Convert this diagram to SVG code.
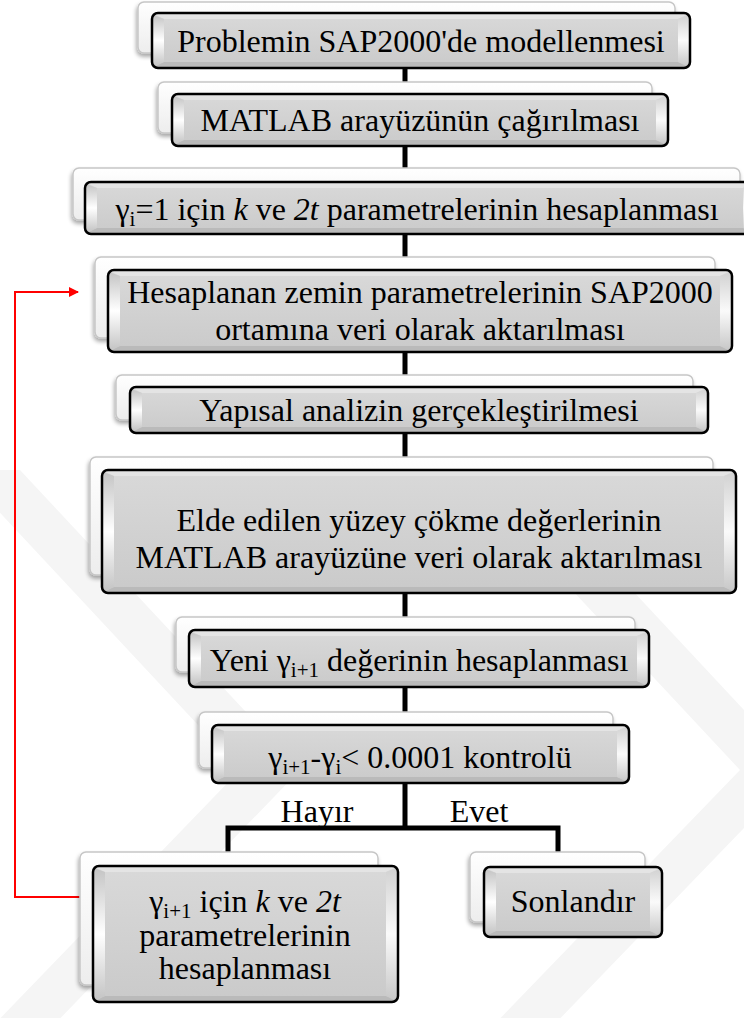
<svg xmlns="http://www.w3.org/2000/svg" width="744" height="1018" viewBox="0 0 744 1018" font-family="'Liberation Serif', 'Times New Roman', serif">
<defs>
<linearGradient id="face" x1="0" y1="0" x2="0" y2="1"><stop offset="0" stop-color="#d9d9d9"/><stop offset="1" stop-color="#cacaca"/></linearGradient>
<linearGradient id="lbev" x1="0" y1="0" x2="0" y2="1"><stop offset="0" stop-color="#c4c4c4"/><stop offset="0.5" stop-color="#ffffff"/><stop offset="1" stop-color="#c4c4c4"/></linearGradient>
<linearGradient id="rbev" x1="0" y1="0" x2="0" y2="1"><stop offset="0" stop-color="#d2d2d2"/><stop offset="0.5" stop-color="#fafafa"/><stop offset="1" stop-color="#c8c8c8"/></linearGradient>
<linearGradient id="back" x1="0" y1="0" x2="0" y2="1"><stop offset="0" stop-color="#ffffff"/><stop offset="1" stop-color="#ededed"/></linearGradient>
<filter id="sh" x="-10%" y="-20%" width="120%" height="150%"><feGaussianBlur in="SourceAlpha" stdDeviation="2"/><feOffset dx="-1" dy="3"/><feComponentTransfer><feFuncA type="linear" slope="0.35"/></feComponentTransfer><feMerge><feMergeNode/><feMergeNode in="SourceGraphic"/></feMerge></filter>
<marker id="ah" viewBox="0 0 10 10" refX="9" refY="5" markerWidth="5" markerHeight="5" orient="auto" markerUnits="strokeWidth"><path d="M0,0 L10,5 L0,10 z" fill="#ff0000"/></marker>
<style>
.bk{fill:url(#back);stroke:#c6c6c6;stroke-width:1.5;filter:url(#sh)}
.fr{fill:url(#face);stroke:none}
.ol{fill:none;stroke:#000;stroke-width:2.5}
.lb{fill:url(#lbev)}
.rb{fill:url(#rbev)}
.tb{fill:#e4e4e4}
.bb{fill:#bababa}
text{font-family:"Liberation Serif","Times New Roman",serif}
.t{font-size:32px;fill:#000;text-anchor:middle}
.s{font-size:21px}
.wm{fill:#f5f5f5}
</style>
</defs>
<g id="watermark">
<polygon class="wm" points="-40,470 20,470 300,770 20,1060 -40,1060 240,770"/>
<polygon class="wm" points="460,470 520,470 800,770 520,1060 460,1060 740,770"/>
</g>
<g id="connectors">
<line x1="405" y1="60" x2="405" y2="830" stroke="#000" stroke-width="5"/>
<polyline points="228,852 228,828 558,828 558,852" fill="none" stroke="#000" stroke-width="5"/>
<polyline points="80,897 15,897 15,292 78,292" fill="none" stroke="#ff0000" stroke-width="2" marker-end="url(#ah)"/>
</g>
<g id="n1">
<rect class="bk" x="138" y="2" width="537" height="51" rx="6"/>
<rect class="fr" x="152" y="13" width="538" height="55" rx="6"/>
<polygon class="tb" points="154,14 688,14 678,19 164,19"/>
<polygon class="bb" points="154,67 688,67 678,62 164,62"/>
<polygon class="lb" points="153,15 164,19 164,62 153,66"/>
<polygon class="rb" points="689,15 678,19 678,62 689,66"/>
<rect class="ol" x="152" y="13" width="538" height="55" rx="6"/>
<text class="t" x="421" y="52">Problemin SAP2000'de modellenmesi</text>
</g>
<g id="n2">
<rect class="bk" x="158" y="82" width="494" height="51" rx="6"/>
<rect class="fr" x="172" y="94" width="496" height="52" rx="6"/>
<polygon class="tb" points="174,95 666,95 656,100 184,100"/>
<polygon class="bb" points="174,145 666,145 656,140 184,140"/>
<polygon class="lb" points="173,96 184,100 184,140 173,144"/>
<polygon class="rb" points="667,96 656,100 656,140 667,144"/>
<rect class="ol" x="172" y="94" width="496" height="52" rx="6"/>
<text class="t" x="420" y="131">MATLAB arayüzünün çağırılması</text>
</g>
<g id="n3">
<rect class="bk" x="73" y="168" width="667" height="52" rx="6"/>
<rect class="fr" x="85" y="182" width="670" height="52" rx="6"/>
<polygon class="tb" points="87,183 753,183 743,188 97,188"/>
<polygon class="bb" points="87,233 753,233 743,228 97,228"/>
<polygon class="lb" points="86,184 97,188 97,228 86,232"/>
<polygon class="rb" points="754,184 743,188 743,228 754,232"/>
<rect class="ol" x="85" y="182" width="670" height="52" rx="6"/>
<text class="t" x="417" y="220">γ<tspan class="s" dy="6">i</tspan><tspan dy="-6">=1 için </tspan><tspan font-style="italic">k</tspan> ve <tspan font-style="italic">2t</tspan> parametrelerinin hesaplanması</text>
</g>
<g id="n4">
<rect class="bk" x="95" y="257" width="620" height="81" rx="6"/>
<rect class="fr" x="108" y="270" width="624" height="82" rx="6"/>
<polygon class="tb" points="110,271 730,271 720,276 120,276"/>
<polygon class="bb" points="110,351 730,351 720,346 120,346"/>
<polygon class="lb" points="109,272 120,276 120,346 109,350"/>
<polygon class="rb" points="731,272 720,276 720,346 731,350"/>
<rect class="ol" x="108" y="270" width="624" height="82" rx="6"/>
<text class="t" x="420" y="303">Hesaplanan zemin parametrelerinin SAP2000</text>
<text class="t" x="420" y="340">ortamına veri olarak aktarılması</text>
</g>
<g id="n5">
<rect class="bk" x="116" y="375" width="577" height="45" rx="6"/>
<rect class="fr" x="130" y="387" width="578" height="46" rx="6"/>
<polygon class="tb" points="132,388 706,388 696,393 142,393"/>
<polygon class="bb" points="132,432 706,432 696,427 142,427"/>
<polygon class="lb" points="131,389 142,393 142,427 131,431"/>
<polygon class="rb" points="707,389 696,393 696,427 707,431"/>
<rect class="ol" x="130" y="387" width="578" height="46" rx="6"/>
<text class="t" x="419" y="421">Yapısal analizin gerçekleştirilmesi</text>
</g>
<g id="n6">
<rect class="bk" x="90" y="457" width="623" height="118" rx="6"/>
<rect class="fr" x="102" y="470" width="634" height="123" rx="6"/>
<polygon class="tb" points="104,471 734,471 724,476 114,476"/>
<polygon class="bb" points="104,592 734,592 724,587 114,587"/>
<polygon class="lb" points="103,472 114,476 114,587 103,591"/>
<polygon class="rb" points="735,472 724,476 724,587 735,591"/>
<rect class="ol" x="102" y="470" width="634" height="123" rx="6"/>
<text class="t" x="419" y="531">Elde edilen yüzey çökme değerlerinin</text>
<text class="t" x="419" y="568">MATLAB arayüzüne veri olarak aktarılması</text>
</g>
<g id="n7">
<rect class="bk" x="176" y="617" width="459" height="55" rx="6"/>
<rect class="fr" x="189" y="630" width="460" height="57" rx="6"/>
<polygon class="tb" points="191,631 647,631 637,636 201,636"/>
<polygon class="bb" points="191,686 647,686 637,681 201,681"/>
<polygon class="lb" points="190,632 201,636 201,681 190,685"/>
<polygon class="rb" points="648,632 637,636 637,681 648,685"/>
<rect class="ol" x="189" y="630" width="460" height="57" rx="6"/>
<text class="t" x="419" y="671">Yeni γ<tspan class="s" dy="6">i+1</tspan><tspan dy="-6"> değerinin hesaplanması</tspan></text>
</g>
<g id="n8">
<rect class="bk" x="199" y="712" width="414" height="56" rx="6"/>
<rect class="fr" x="212" y="725" width="417" height="58" rx="6"/>
<polygon class="tb" points="214,726 627,726 617,731 224,731"/>
<polygon class="bb" points="214,782 627,782 617,777 224,777"/>
<polygon class="lb" points="213,727 224,731 224,777 213,781"/>
<polygon class="rb" points="628,727 617,731 617,777 628,781"/>
<rect class="ol" x="212" y="725" width="417" height="58" rx="6"/>
<text class="t" x="420" y="768">γ<tspan class="s" dy="6">i+1</tspan><tspan dy="-6">-γ</tspan><tspan class="s" dy="6">i</tspan><tspan dy="-6">&lt; 0.0001 kontrolü</tspan></text>
</g>
<g id="labels">
<text class="t" x="317" y="822">Hayır</text>
<text class="t" x="479" y="822">Evet</text>
</g>
<g id="n9">
<rect class="bk" x="80" y="852" width="298" height="133" rx="6"/>
<rect class="fr" x="93" y="866" width="305" height="136" rx="6"/>
<polygon class="tb" points="95,867 396,867 386,872 105,872"/>
<polygon class="bb" points="95,1001 396,1001 386,996 105,996"/>
<polygon class="lb" points="94,868 105,872 105,996 94,1000"/>
<polygon class="rb" points="397,868 386,872 386,996 397,1000"/>
<rect class="ol" x="93" y="866" width="305" height="136" rx="6"/>
<text class="t" x="245" y="912">γ<tspan class="s" dy="6">i+1</tspan><tspan dy="-6"> için </tspan><tspan font-style="italic">k</tspan> ve <tspan font-style="italic">2t</tspan></text>
<text class="t" x="245" y="946">parametrelerinin</text>
<text class="t" x="245" y="979">hesaplanması</text>
</g>
<g id="n10">
<rect class="bk" x="470" y="852" width="175" height="70" rx="6"/>
<rect class="fr" x="484" y="867" width="178" height="70" rx="6"/>
<polygon class="tb" points="486,868 660,868 650,873 496,873"/>
<polygon class="bb" points="486,936 660,936 650,931 496,931"/>
<polygon class="lb" points="485,869 496,873 496,931 485,935"/>
<polygon class="rb" points="661,869 650,873 650,931 661,935"/>
<rect class="ol" x="484" y="867" width="178" height="70" rx="6"/>
<text class="t" x="573" y="912">Sonlandır</text>
</g>
</svg>
